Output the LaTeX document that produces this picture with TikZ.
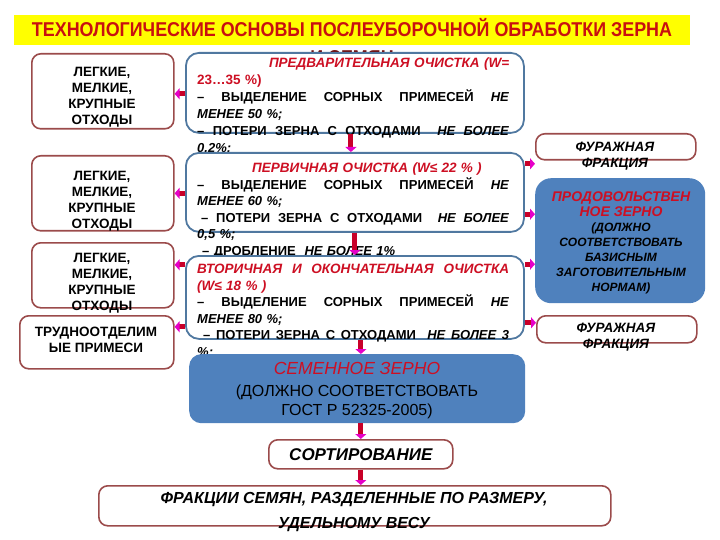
\documentclass[tikz,border=0pt]{standalone}
\usepackage{fontspec}
\setmainfont{Liberation Sans}
\newfontfamily\titlefont[FakeStretch=0.895]{Liberation Sans}
\usepackage{xcolor}
\usetikzlibrary{arrows.meta,positioning,calc}
\definecolor{titleyellow}{RGB}{255,255,0}
\definecolor{titlered}{RGB}{200,16,16}
\definecolor{txtred}{RGB}{205,15,35}
\definecolor{boxbrown}{RGB}{155,75,75}
\definecolor{boxblue}{RGB}{80,120,160}
\definecolor{seedblue}{RGB}{79,129,189}
\definecolor{arrred}{RGB}{200,0,40}
\definecolor{arrmag}{RGB}{230,0,200}
\tikzset{
  lbox/.style     = {rectangle, rounded corners=9pt, draw=boxbrown, line width=1.6pt,
                     fill=white, anchor=north west, inner sep=0pt},
  mbox/.style     = {rectangle, rounded corners=13pt, draw=boxblue, line width=1.8pt,
                     fill=white, anchor=north west, inner sep=0pt},
  fillbox/.style  = {rectangle, rounded corners=12pt, fill=seedblue, draw=none,
                     anchor=north west, inner sep=0pt},
  titletxt/.style = {anchor=base, inner sep=0pt, text=titlered,
                     font=\titlefont\fontsize{20}{23}\selectfont\bfseries},
  ltxt/.style     = {align=center, inner sep=0pt, font=\fontsize{13.5}{16}\selectfont\bfseries},
  mtxt/.style     = {anchor=north west, inner sep=0pt, text width=312pt, align=left,
                     font=\fontsize{13}{17}\selectfont\bfseries},
  rtxt/.style     = {align=center, inner sep=0pt, font=\fontsize{13.5}{16}\selectfont\bfseries\itshape},
  fintxt/.style   = {align=center, inner sep=0pt, font=\fontsize{16}{25}\selectfont\bfseries\itshape},
  blockarr/.style = {line width=5pt, draw=arrred, -{Triangle[length=5pt, width=11pt, color=arrmag]}},
}
\newcommand{\jline}[1]{\makebox[312pt][s]{\spaceskip=0.3em plus 3em\xspaceskip=0.3em plus 3em #1}}
\newcommand{\rtitle}[1]{{\color{txtred}\fontsize{13.5}{17}\selectfont\itshape #1}}

\begin{document}
\begin{tikzpicture}[x=1pt, y=1pt]
\useasboundingbox (0,0) rectangle (720,-540);

% Title band
\node[fill=titleyellow, anchor=north west, minimum width=676pt, minimum height=30pt, inner sep=0pt] (band) at (14,-15) {};
\node[titletxt] (title) at (352,-37) {ТЕХНОЛОГИЧЕСКИЕ ОСНОВЫ ПОСЛЕУБОРОЧНОЙ ОБРАБОТКИ ЗЕРНА};
\node[titletxt, text=titlered!55!black] (title2) at (352,-65) {И СЕМЯН};

% Waste boxes (left)
\node[lbox, minimum width=142pt, minimum height=75pt] (l1) at (31,-53) {};
\node[ltxt] (l1t) at (102,-97) {ЛЕГКИЕ,\\МЕЛКИЕ,\\КРУПНЫЕ\\ОТХОДЫ};
\node[lbox, minimum width=142pt, minimum height=75pt] (l2) at (31,-155) {};
\node[ltxt] (l2t) at (102,-201) {ЛЕГКИЕ,\\МЕЛКИЕ,\\КРУПНЫЕ\\ОТХОДЫ};
\node[lbox, minimum width=142pt, minimum height=65pt] (l3) at (31,-242) {};
\node[ltxt] (l3t) at (102,-283) {ЛЕГКИЕ,\\МЕЛКИЕ,\\КРУПНЫЕ\\ОТХОДЫ};
\node[lbox, minimum width=154pt, minimum height=53pt] (l4) at (19,-315) {};
\node[ltxt] (l4t) at (96,-340) {ТРУДНООТДЕЛИМ\\ЫЕ ПРИМЕСИ};

% Pre-cleaning
\node[mbox, minimum width=338pt, minimum height=80pt] (m1) at (185,-52) {};
\node[mtxt] (m1t) at (197,-58) {%
  \hfill\rtitle{ПРЕДВАРИТЕЛЬНАЯ ОЧИСТКА (W=}\\
  {\color{txtred}\fontsize{13.5}{17}\selectfont 23…35 \%)}\\
  \jline{– ВЫДЕЛЕНИЕ СОРНЫХ ПРИМЕСЕЙ \textit{НЕ}}\\
  \textit{МЕНЕЕ 50 \%;}\\
  \jline{– ПОТЕРИ ЗЕРНА С ОТХОДАМИ \ \textit{НЕ БОЛЕЕ}}\\
  \textit{0,2\%;}};

% Primary cleaning
\node[mbox, minimum width=338pt, minimum height=79pt] (m2) at (185,-152) {};
\node[mtxt, font=\fontsize{13}{16.5}\selectfont\bfseries] (m2t) at (197,-163) {%
  \hspace*{55pt}\rtitle{ПЕРВИЧНАЯ ОЧИСТКА (W≤ 22 \% )}\\
  \jline{– ВЫДЕЛЕНИЕ СОРНЫХ ПРИМЕСЕЙ \textit{НЕ}}\\
  \textit{МЕНЕЕ 60 \%;}\\
  \jline{\hspace{4pt}– ПОТЕРИ ЗЕРНА С ОТХОДАМИ \ \textit{НЕ БОЛЕЕ}}\\
  \textit{0,5 \%;}\\
  \hspace*{5pt}– ДРОБЛЕНИЕ \ \textit{НЕ БОЛЕЕ 1\%}};

% Secondary and final cleaning
\node[mbox, minimum width=338pt, minimum height=83pt] (m3) at (185,-255) {};
\node[mtxt, font=\fontsize{13}{16.5}\selectfont\bfseries] (m3t) at (197,-264) {%
  \jline{\rtitle{ВТОРИЧНАЯ И ОКОНЧАТЕЛЬНАЯ ОЧИСТКА}}\\
  \rtitle{(W≤ 18 \% )}\\
  \jline{– ВЫДЕЛЕНИЕ СОРНЫХ ПРИМЕСЕЙ \textit{НЕ}}\\
  \textit{МЕНЕЕ 80 \%;}\\
  \jline{\hspace{6pt}– ПОТЕРИ ЗЕРНА С ОТХОДАМИ \ \textit{НЕ БОЛЕЕ 3}}\\
  \textit{\%;}};

% Seed grain
\node[fillbox, minimum width=336pt, minimum height=69pt] (m4) at (189,-354) {};
\node[align=center, inner sep=0pt, font=\fontsize{16}{19.5}\selectfont] (m4t) at (357,-391) {%
  {\color{txtred}\fontsize{17.5}{21}\selectfont\itshape СЕМЕННОЕ ЗЕРНО}\\[2pt]
  (ДОЛЖНО СООТВЕТСТВОВАТЬ\\ГОСТ Р 52325-2005)};

% Outputs (right)
\node[lbox, minimum width=160pt, minimum height=26pt] (r1) at (535,-133) {};
\node[rtxt] (r1t) at (615,-156) {ФУРАЖНАЯ\\ФРАКЦИЯ};
\node[fillbox, rounded corners=16pt, minimum width=170pt, minimum height=125pt] (r2) at (535,-178) {};
\node[align=center, inner sep=0pt, font=\fontsize{12}{15}\selectfont\bfseries\itshape] (r2t) at (621,-243) {%
  {\color{txtred}\fontsize{14}{15}\selectfont ПРОДОВОЛЬСТВЕН}\\
  {\color{txtred}\fontsize{14}{15}\selectfont НОЕ ЗЕРНО}\\
  (ДОЛЖНО\\СООТВЕТСТВОВАТЬ\\БАЗИСНЫМ\\ЗАГОТОВИТЕЛЬНЫМ\\НОРМАМ)};
\node[lbox, minimum width=160pt, minimum height=27pt] (r3) at (536,-315) {};
\node[rtxt] (r3t) at (616,-337) {ФУРАЖНАЯ\\ФРАКЦИЯ};

% Sorting and fractions
\node[lbox, minimum width=184pt, minimum height=29pt, font=\fontsize{17}{20}\selectfont\bfseries\itshape] (sort) at (268,-439) {СОРТИРОВАНИЕ};
\node[lbox, minimum width=512pt, minimum height=40pt] (fin) at (98,-485) {};
\node[fintxt] (fint) at (354,-512) {ФРАКЦИИ СЕМЯН, РАЗДЕЛЕННЫЕ ПО РАЗМЕРУ,\\УДЕЛЬНОМУ ВЕСУ};

% arrows to the waste boxes
\draw[blockarr] ([yshift=-2.5pt]l1.east -| m1.west) -- ([yshift=-2.5pt]l1.east);
\draw[blockarr] (l2.east -| m2.west) -- (l2.east);
\draw[blockarr] ([yshift=10.5pt]l3.east -| m3.west) -- ([yshift=10.5pt]l3.east);
\draw[blockarr] ([yshift=15.5pt]l4.east -| m3.west) -- ([yshift=15.5pt]l4.east);

% arrows to the outputs
\draw[blockarr] ([yshift=-17pt]r1.west -| m2.east) -- ([yshift=-17pt]r1.west);
\draw[blockarr] ([yshift=26.5pt]r2.west -| m2.east) -- ([yshift=26.5pt]r2.west);
\draw[blockarr] ([yshift=-23.5pt]r2.west -| m3.east) -- ([yshift=-23.5pt]r2.west);
\draw[blockarr] ([yshift=6.5pt]r3.west -| m3.east) -- ([yshift=6.5pt]r3.west);

% main line down
\draw[blockarr] ([xshift=-4pt]m1.south) -- ([xshift=-4pt]m1.south |- m2.north);
\draw[blockarr] (m2.south) -- (m2.south |- m3.north);
\draw[blockarr] ([xshift=6pt]m3.south) -- ([xshift=6pt]m3.south |- m4.north);
\draw[blockarr] (m4.south -| sort.north) -- (sort.north);
\draw[blockarr] (sort.south) -- (sort.south |- fin.north);

\end{tikzpicture}
\end{document}
